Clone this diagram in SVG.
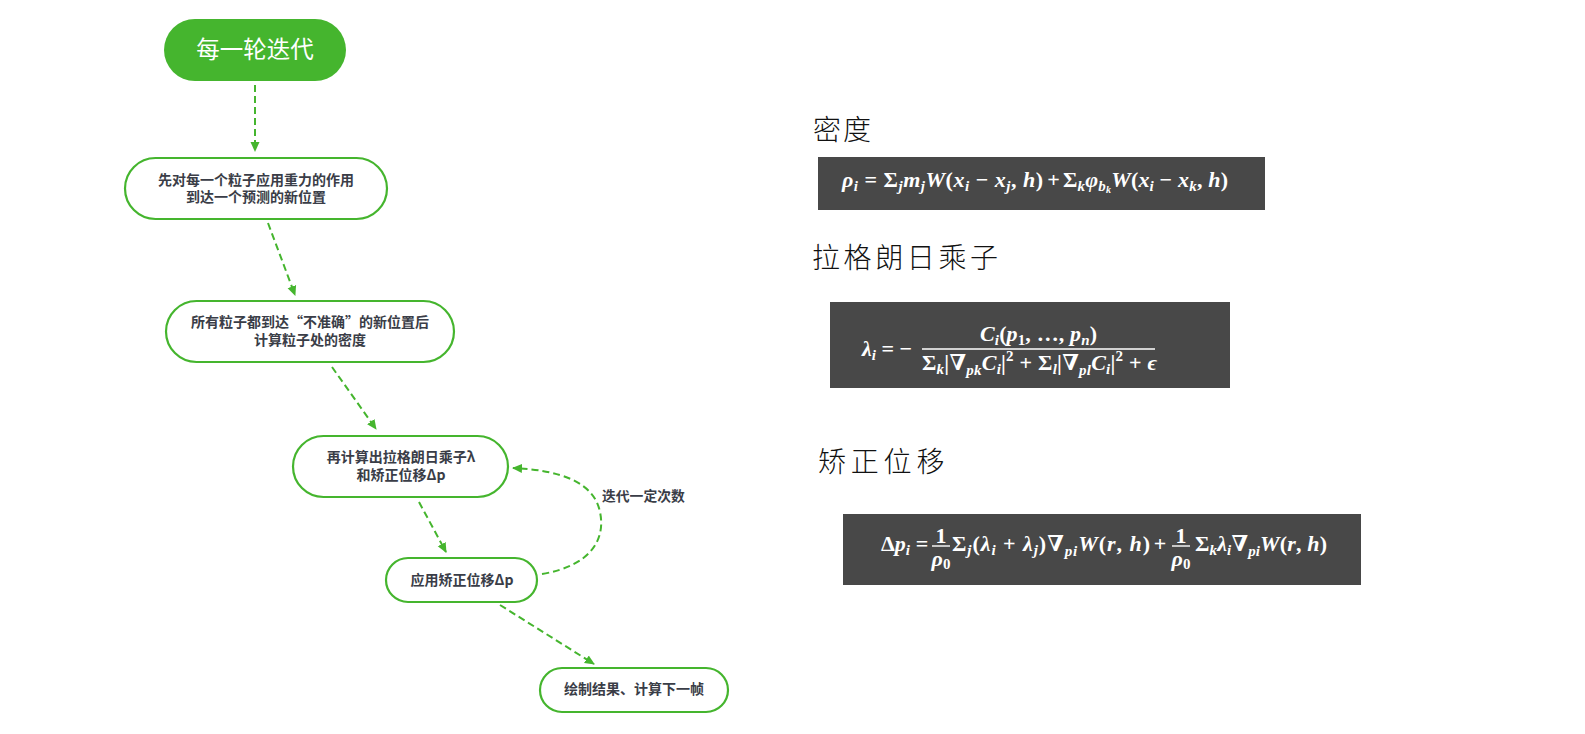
<svg xmlns="http://www.w3.org/2000/svg" width="1585" height="734" viewBox="0 0 1585 734">
<defs>
<marker id="ah" viewBox="0 0 10 10" refX="9" refY="5" markerWidth="10" markerHeight="10" markerUnits="userSpaceOnUse" orient="auto">
<path d="M0,0.5 L10,5 L0,9.5 Z" fill="#45b52e"/>
</marker>
<style>
.node{fill:#fff;stroke:#45b52e;stroke-width:2.2}
.lbl{font-family:"Noto Sans CJK SC","Liberation Sans",sans-serif;font-size:14px;font-weight:bold;fill:#3a3d47;text-anchor:middle}
.conn{fill:none;stroke:#45b52e;stroke-width:2;stroke-dasharray:7 4}
.head{font-family:"Noto Sans CJK SC",sans-serif;font-weight:300;fill:#111;font-size:28px}
.box{fill:#484848}
.m{font-family:"Liberation Serif","DejaVu Serif",serif;font-weight:bold;fill:#fff;font-size:22px}
.i{font-style:italic}
.s{font-size:15px}
.bar{stroke:#fff;stroke-width:1.4}
</style>
</defs>
<rect width="1585" height="734" fill="#fff"/>

<g id="connectors">
<path class="conn" d="M255,85 L255,151" marker-end="url(#ah)"/>
<path class="conn" d="M268,223 L295,295" marker-end="url(#ah)"/>
<path class="conn" d="M332,367 L376,429" marker-end="url(#ah)"/>
<path class="conn" d="M419,502 L446,552" marker-end="url(#ah)"/>
<path class="conn" d="M500,605 L594,664" marker-end="url(#ah)"/>
<path class="conn" d="M542,574 C590,566 606,540 600,512 C594,482 560,470 513,468" marker-end="url(#ah)"/>
<text x="602" y="501" class="lbl" style="text-anchor:start;font-size:13.8px">迭代一定次数</text>
</g>

<g id="n1">
<rect x="164" y="19" width="182" height="62" rx="31" fill="#45b52e"/>
<text x="255" y="58" style="font-family:'Noto Sans CJK SC',sans-serif;font-size:23.5px;fill:#fff;text-anchor:middle">每一轮迭代</text>
</g>
<g id="n2">
<rect class="node" x="125" y="158" width="262" height="61" rx="30.5"/>
<text class="lbl" x="256" y="185">先对每一个粒子应用重力的作用</text>
<text class="lbl" x="256" y="202">到达一个预测的新位置</text>
</g>
<g id="n3">
<rect class="node" x="166" y="301" width="288" height="61" rx="30.5"/>
<text class="lbl" x="310" y="327">所有粒子都到达“不准确”的新位置后</text>
<text class="lbl" x="310" y="345">计算粒子处的密度</text>
</g>
<g id="n4">
<rect class="node" x="293" y="436" width="215" height="61" rx="30.5"/>
<text class="lbl" x="401" y="462">再计算出拉格朗日乘子λ</text>
<text class="lbl" x="401" y="480">和矫正位移Δp</text>
</g>
<g id="n5">
<rect class="node" x="386" y="558" width="151" height="44" rx="22"/>
<text class="lbl" x="462" y="585">应用矫正位移Δp</text>
</g>
<g id="n6">
<rect class="node" x="540" y="668" width="188" height="44" rx="22"/>
<text class="lbl" x="634" y="694">绘制结果、计算下一帧</text>
</g>

<g id="density">
<text class="head" x="813" y="140" letter-spacing="2">密度</text>
<rect class="box" x="818" y="157" width="447" height="53"/>
<text class="m" x="842" y="187" textLength="201" lengthAdjust="spacing"><tspan class="i">ρ</tspan><tspan class="s i" dy="4">i</tspan><tspan dy="-4"> = Σ</tspan><tspan class="s i" dy="4">j</tspan><tspan class="i" dy="-4">m</tspan><tspan class="s i" dy="4">j</tspan><tspan class="i" dy="-4">W</tspan><tspan>(</tspan><tspan class="i">x</tspan><tspan class="s i" dy="4">i</tspan><tspan dy="-4"> − </tspan><tspan class="i">x</tspan><tspan class="s i" dy="4">j</tspan><tspan dy="-4">, </tspan><tspan class="i">h</tspan><tspan>)</tspan></text>
<text class="m" x="1053.5" y="187" text-anchor="middle">+</text>
<text class="m" x="1063" y="187" textLength="165" lengthAdjust="spacing"><tspan>Σ</tspan><tspan class="s i" dy="4">k</tspan><tspan class="i" dy="-4">φ</tspan><tspan class="s i" dy="4">b</tspan><tspan class="i" style="font-size:10px" dy="2">k</tspan><tspan class="i" dy="-6">W</tspan><tspan>(</tspan><tspan class="i">x</tspan><tspan class="s i" dy="4">i</tspan><tspan dy="-4"> − </tspan><tspan class="i">x</tspan><tspan class="s i" dy="4">k</tspan><tspan dy="-4">, </tspan><tspan class="i">h</tspan><tspan>)</tspan></text>
</g>

<g id="lagrange">
<text class="head" x="812" y="268" letter-spacing="3.6">拉格朗日乘子</text>
<rect class="box" x="830" y="302" width="400" height="86"/>
<text class="m" x="862" y="356"><tspan class="i">λ</tspan><tspan class="s i" dy="4">i</tspan><tspan dy="-4"> = −</tspan></text>
<text class="m" x="980" y="341" textLength="117" lengthAdjust="spacing"><tspan class="i">C</tspan><tspan class="s i" dy="4">i</tspan><tspan dy="-4">(</tspan><tspan class="i">p</tspan><tspan class="s" dy="4">1</tspan><tspan dy="-4">, …, </tspan><tspan class="i">p</tspan><tspan class="s i" dy="4">n</tspan><tspan dy="-4">)</tspan></text>
<line class="bar" x1="922" y1="349" x2="1155" y2="349"/>
<text class="m" x="922" y="370" textLength="235" lengthAdjust="spacing"><tspan>Σ</tspan><tspan class="s i" dy="4">k</tspan><tspan dy="-4">|∇</tspan><tspan class="s i" dy="5">pk</tspan><tspan class="i" dy="-5">C</tspan><tspan class="s i" dy="4">i</tspan><tspan dy="-4">|</tspan><tspan class="s" dy="-9">2</tspan><tspan dy="9"> + Σ</tspan><tspan class="s i" dy="4">l</tspan><tspan dy="-4">|∇</tspan><tspan class="s i" dy="5">pl</tspan><tspan class="i" dy="-5">C</tspan><tspan class="s i" dy="4">i</tspan><tspan dy="-4">|</tspan><tspan class="s" dy="-9">2</tspan><tspan dy="9"> + </tspan><tspan class="i">ϵ</tspan></text>
</g>

<g id="correction">
<text class="head" x="818" y="472" letter-spacing="4.8">矫正位移</text>
<rect class="box" x="843" y="514" width="518" height="71"/>
<text class="m" x="881" y="551"><tspan>Δ</tspan><tspan class="i">p</tspan><tspan class="s i" dy="4">i</tspan></text>
<text class="m" x="922" y="551" text-anchor="middle">=</text>
<text class="m" x="941" y="543" text-anchor="middle">1</text>
<line class="bar" x1="932" y1="546" x2="950" y2="546"/>
<text class="m" x="941" y="566" text-anchor="middle"><tspan class="i">ρ</tspan><tspan class="s" dy="3">0</tspan></text>
<text class="m" x="952" y="551" textLength="198" lengthAdjust="spacing"><tspan>Σ</tspan><tspan class="s i" dy="4">j</tspan><tspan dy="-4">(</tspan><tspan class="i">λ</tspan><tspan class="s i" dy="4">i</tspan><tspan dy="-4"> + </tspan><tspan class="i">λ</tspan><tspan class="s i" dy="4">j</tspan><tspan dy="-4">)∇</tspan><tspan class="s i" dy="5">pi</tspan><tspan class="i" dy="-5">W</tspan><tspan>(</tspan><tspan class="i">r</tspan><tspan>, </tspan><tspan class="i">h</tspan><tspan>)</tspan></text>
<text class="m" x="1160" y="551" text-anchor="middle">+</text>
<text class="m" x="1181" y="543" text-anchor="middle">1</text>
<line class="bar" x1="1172" y1="546" x2="1190" y2="546"/>
<text class="m" x="1181" y="566" text-anchor="middle"><tspan class="i">ρ</tspan><tspan class="s" dy="3">0</tspan></text>
<text class="m" x="1195" y="551" textLength="132" lengthAdjust="spacing"><tspan>Σ</tspan><tspan class="s i" dy="4">k</tspan><tspan class="i" dy="-4">λ</tspan><tspan class="s i" dy="4">i</tspan><tspan dy="-4">∇</tspan><tspan class="s i" dy="5">pi</tspan><tspan class="i" dy="-5">W</tspan><tspan>(</tspan><tspan class="i">r</tspan><tspan>, </tspan><tspan class="i">h</tspan><tspan>)</tspan></text>
</g>
</svg>
